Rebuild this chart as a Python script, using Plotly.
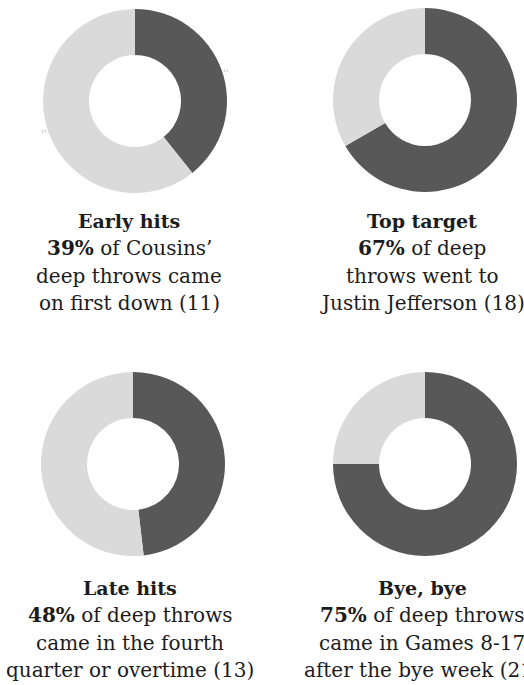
import plotly.graph_objects as go

W, H = 524, 685

# Data
chart_titles = ["Early hits", "Top target", "Late hits", "Bye, bye"]
highlight_values = [11, 18, 13, 21]
other_values = [17, 9, 14, 7]
pct_labels = ["39%", "67%", "48%", "75%"]
desc_line1 = [" of Cousins’", " of deep", " of deep throws", " of deep throws"]
desc_line2 = ["deep throws came", "throws went to", "came in the fourth", "came in Games 8-17"]
desc_line3 = ["on first down (11)", "Justin Jefferson (18)", "quarter or overtime (13)", "after the bye week (21)"]
show_slice_values = [True, False, False, False]

# Layout (pixel positions in the picture)
centers = [(135, 101), (425, 100), (133, 464), (425, 464)]
radius = 92
text_cx = [129, 422, 130, 422]
text_tops = [221, 221, 588, 588]
line_gap = 27.3

DARK = "#585858"
LIGHT = "#dadada"
TEXT = "#1c1c1c"
FONT = "DejaVu Serif"


def px_x(x):
    return x / W


def px_y(y):
    return 1 - y / H


fig = go.Figure()

for i in range(4):
    cx, cy = centers[i]
    dom_x = [px_x(cx - radius), px_x(cx + radius)]
    dom_y = [px_y(cy + radius), px_y(cy - radius)]
    fig.add_trace(go.Pie(
        values=[highlight_values[i], other_values[i]],
        labels=["a", "b"],
        marker=dict(colors=[DARK, LIGHT], line=dict(width=0)),
        hole=0.5,
        sort=False,
        direction="clockwise",
        rotation=0,
        domain=dict(x=dom_x, y=dom_y),
        textinfo="value" if show_slice_values[i] else "none",
        textposition="outside",
        textfont=dict(size=4, color="#999999", family=FONT),
        showlegend=False,
        hoverinfo="skip",
    ))

    ty = text_tops[i]
    lines = [
        f"<b>{chart_titles[i]}</b>",
        f"<b>{pct_labels[i]}</b>{desc_line1[i]}",
        desc_line2[i],
        desc_line3[i],
    ]
    for k, t in enumerate(lines):
        fig.add_annotation(
            x=px_x(text_cx[i]), y=px_y(ty + k * line_gap),
            xref="paper", yref="paper",
            xanchor="center", yanchor="middle",
            text=t, showarrow=False,
            font=dict(family=FONT, size=(19 if k == 0 else 20), color=TEXT),
        )

fig.update_layout(
    width=W, height=H,
    margin=dict(l=0, r=0, t=0, b=0),
    paper_bgcolor="white", plot_bgcolor="white",
)

fig.write_html(
    "out.html",
    config={"displayModeBar": False},
    post_script="document.body.style.margin='0';document.body.style.overflow='hidden';",
)
